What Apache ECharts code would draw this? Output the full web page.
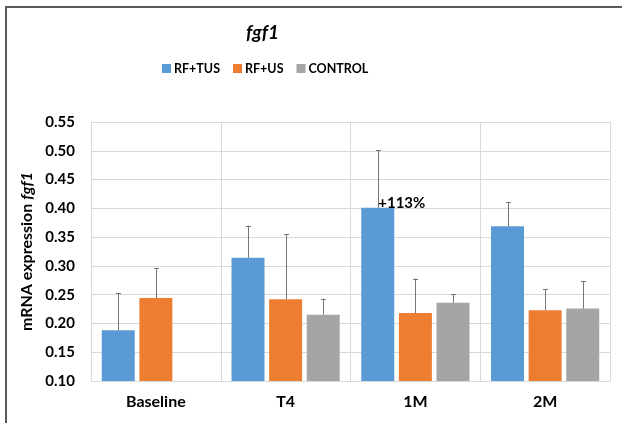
<!DOCTYPE html>
<html>
<head>
<meta charset="utf-8">
<script src="https://cdn.jsdelivr.net/npm/echarts@6/dist/echarts.min.js"></script>
<style>
html,body{margin:0;padding:0;background:#fff;}
#wrap{position:relative;width:622px;height:423px;}
#chart{position:absolute;left:0;top:0;width:622px;height:423px;}
#frame{position:absolute;left:5px;top:6px;right:0;bottom:0;border-left:2px solid #5a5a5a;border-top:2px solid #5a5a5a;pointer-events:none;}
</style>
</head>
<body>
<div id="wrap"><div id="chart"></div><div id="frame"></div></div>
<script>
var categories = ['Baseline', 'T4', '1M', '2M'];
var seriesNames = ['RF+TUS', 'RF+US', 'CONTROL'];
var rfTus = [0.188, 0.314, 0.401, 0.369];
var rfTusErr = [0.065, 0.056, 0.100, 0.042];
var rfUs = [0.244, 0.242, 0.218, 0.223];
var rfUsErr = [0.052, 0.113, 0.060, 0.037];
var control = [null, 0.215, 0.236, 0.226];
var controlErr = [null, 0.028, 0.015, 0.048];
var yTicks = [0.10, 0.15, 0.20, 0.25, 0.30, 0.35, 0.40, 0.45, 0.50, 0.55];
var annotation = { series: 0, index: 2, text: '+113%' };

var colors = ['#5B9BD5', '#ED7D31', '#A5A5A5'];
var values = [rfTus, rfUs, control];
var errs = [rfTusErr, rfUsErr, controlErr];
var FONT = 'Lato';
var catGap = 0.166, barGapRatio = 0.14;

function errSeries(si) {
  var data = [];
  values[si].forEach(function (v, i) {
    if (v != null && errs[si][i] != null) data.push([i, v, v + errs[si][i]]);
  });
  return {
    type: 'custom',
    name: seriesNames[si] + ' err',
    z: 5,
    silent: true,
    data: data,
    encode: { x: 0, y: [1, 2] },
    renderItem: function (params, api) {
      var band = api.size([1, 0])[0];
      var bw = band * (1 - catGap) / (3 + 2 * barGapRatio);
      var off = (si - 1) * bw * (1 + barGapRatio);
      var p0 = api.coord([api.value(0), api.value(1)]);
      var p1 = api.coord([api.value(0), api.value(2)]);
      var x = Math.round(p0[0] + off) + 0.5;
      var style = { stroke: '#767676', lineWidth: 1 };
      return {
        type: 'group',
        children: [
          { type: 'line', shape: { x1: x, y1: p0[1], x2: x, y2: p1[1] }, style: style },
          { type: 'line', shape: { x1: x - 2.5, y1: Math.round(p1[1]) + 0.5, x2: x + 2.5, y2: Math.round(p1[1]) + 0.5 }, style: style }
        ]
      };
    }
  };
}

var series = [];
values.forEach(function (arr, si) {
  series.push({
    type: 'bar',
    name: seriesNames[si],
    data: arr.map(function (v, i) {
      var d = { value: v };
      if (annotation.series === si && annotation.index === i) {
        d.label = {
          show: true,
          formatter: annotation.text,
          position: [17, 3],
          align: 'left',
          verticalAlign: 'bottom',
          color: '#000',
          fontWeight: 'bold',
          fontSize: 15,
          fontFamily: FONT
        };
      }
      return d;
    }),
    itemStyle: { color: colors[si] },
    barGap: (barGapRatio * 100) + '%',
    barCategoryGap: (catGap * 100) + '%',
    z: 2
  });
});
for (var s = 0; s < 3; s++) series.push(errSeries(s));

var chart = echarts.init(document.getElementById('chart'), null, { renderer: 'canvas' });
chart.setOption({
  animation: false,
  backgroundColor: '#ffffff',
  title: {
    text: 'fgf1',
    left: 241,
    top: 18,
    textStyle: { fontFamily: FONT, fontSize: 19, fontWeight: 'bold', fontStyle: 'italic', color: '#000' }
  },
  legend: {
    data: seriesNames,
    left: 157,
    top: 57,
    icon: 'rect',
    itemWidth: 9,
    itemHeight: 9,
    itemGap: 13,
    textStyle: { fontFamily: FONT, fontSize: 12.5, fontWeight: 'bold', color: '#000', padding: [0, 0, 0, -2] }
  },
  grid: { left: 91, right: 12, top: 122, bottom: 42, containLabel: false },
  xAxis: {
    type: 'category',
    data: categories,
    axisLine: { show: true, lineStyle: { color: '#d9d9d9', width: 1 } },
    axisTick: { show: false },
    splitLine: { show: true, lineStyle: { color: '#d9d9d9', width: 1 } },
    axisLabel: { fontFamily: FONT, fontSize: 16, fontWeight: 'bold', color: '#000', margin: 13 }
  },
  yAxis: {
    type: 'value',
    min: yTicks[0],
    max: yTicks[yTicks.length - 1],
    interval: 0.05,
    name: '{a|mRNA expression }{b|fgf1}',
    nameLocation: 'middle',
    nameRotate: 90,
    nameGap: 47,
    nameTextStyle: {
      rich: {
        a: { fontFamily: FONT, fontSize: 16, fontWeight: 'bold', color: '#000' },
        b: { fontFamily: FONT, fontSize: 16, fontWeight: 'bold', fontStyle: 'italic', color: '#000' }
      }
    },
    axisLine: { show: false },
    axisTick: { show: false },
    splitLine: { show: true, lineStyle: { color: '#d9d9d9', width: 1 } },
    axisLabel: {
      fontFamily: FONT, fontSize: 15, fontWeight: 'bold', color: '#000', margin: 16,
      formatter: function (v) { return v.toFixed(2); }
    }
  },
  series: series
});
</script>
</body>
</html>
